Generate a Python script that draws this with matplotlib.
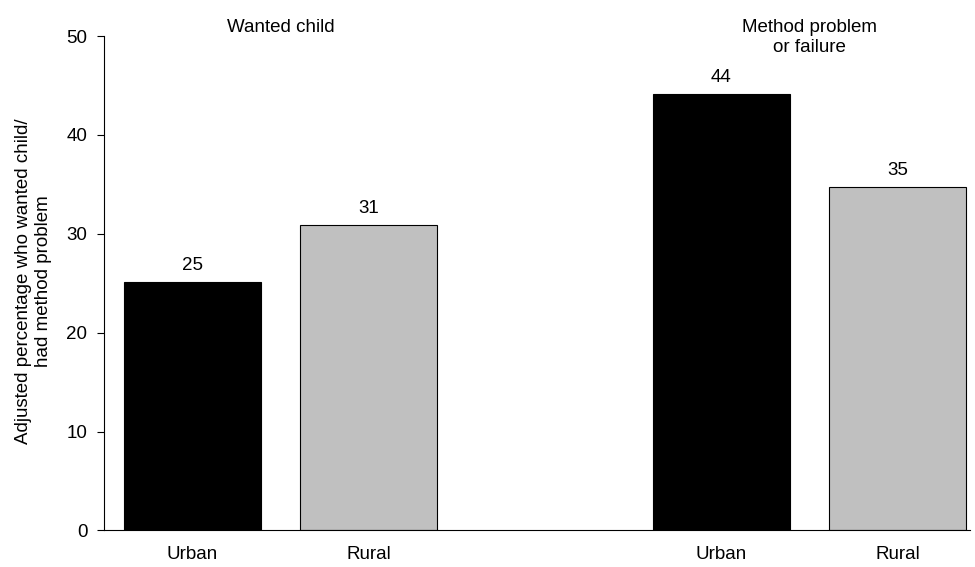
import numpy as np
import matplotlib.pyplot as plt

plt.rcParams['font.family'] = ['Liberation Sans', 'DejaVu Sans']

groups = ['Wanted child', 'Method problem\nor failure']
categories = ['Urban', 'Rural', 'Urban', 'Rural']
values = [25.1, 30.9, 44.1, 34.7]
labels = ['25', '31', '44', '35']
positions = [0, 1, 3, 4]
colors = ['black', '#c0c0c0', 'black', '#c0c0c0']

fs = 13.5

fig = plt.figure(figsize=(9.75, 5.67), dpi=100)
ax = fig.add_axes([0.1067, 0.0644, 0.888, 0.872])

ax.bar(positions, values, width=0.777, color=colors, edgecolor='black', linewidth=0.8)
for x, v, t in zip(positions, values, labels):
    ax.text(x, v + 0.8, t, ha='center', va='bottom', fontsize=fs)

ax.set_xlim(-0.5, 4.41)
ax.set_ylim(0, 50)
ax.set_yticks(np.arange(0, 51, 10))
ax.set_xticks(positions)
ax.set_xticklabels(categories, fontsize=fs)
ax.tick_params(axis='x', length=0, pad=11)
ax.tick_params(axis='y', labelsize=fs, length=5, direction='out', pad=7)
ax.spines['top'].set_visible(False)
ax.spines['right'].set_visible(False)
ax.set_ylabel('Adjusted percentage who wanted child/\nhad method problem', fontsize=fs)
ax.yaxis.set_label_coords(-0.06, 0.505)

# group headings above the plot area
top = 1 - 19 / 567
for x, g in zip([0.5, 3.5], groups):
    xf = fig.transFigure.inverted().transform(ax.transData.transform((x, 0)))[0]
    fig.text(xf, top, g, ha='center', va='top', fontsize=fs, linespacing=1.2)

fig.savefig('out.png', dpi=100)
